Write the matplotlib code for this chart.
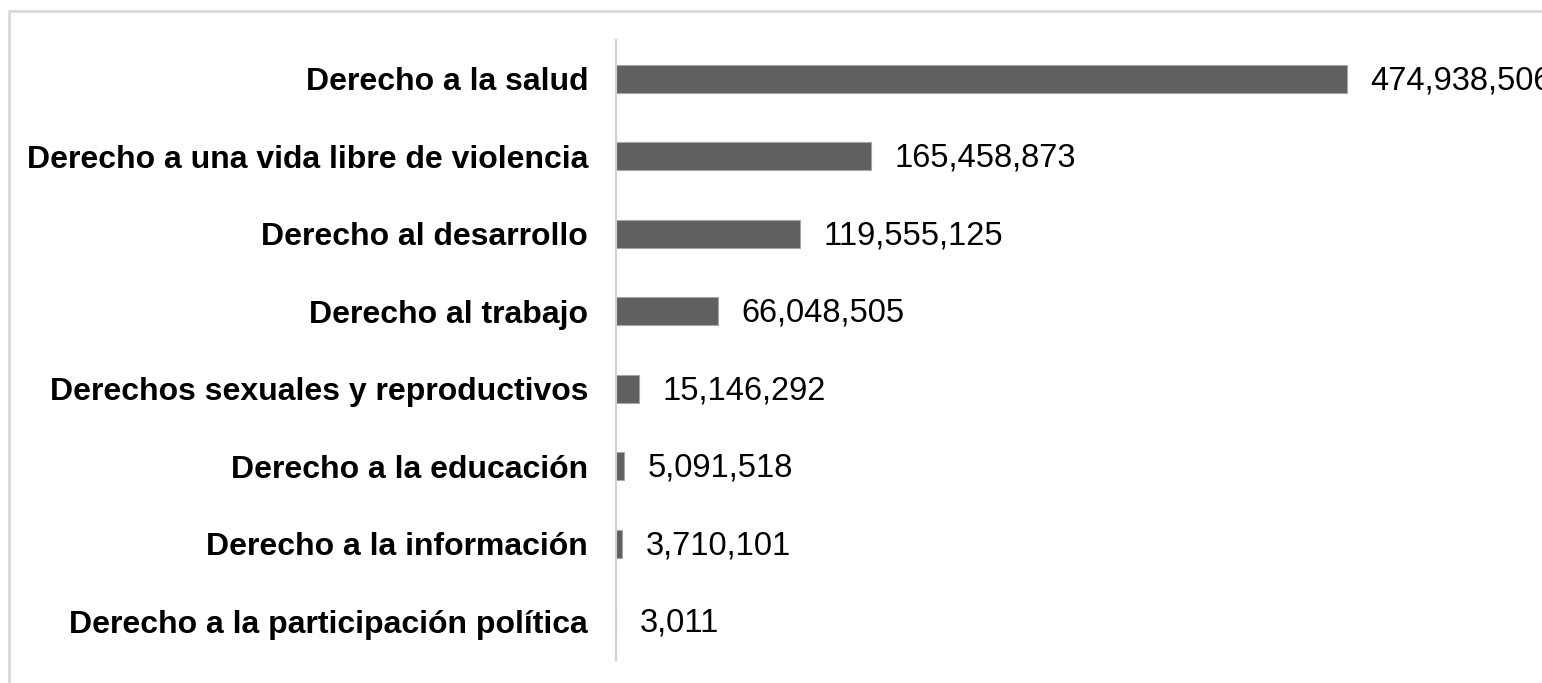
# horizontal bar chart: amounts per right (derecho)
import matplotlib.pyplot as plt
from matplotlib.patches import Rectangle

categories = [
    "Derecho a la salud",
    "Derecho a una vida libre de violencia",
    "Derecho al desarrollo",
    "Derecho al trabajo",
    "Derechos sexuales y reproductivos",
    "Derecho a la educación",
    "Derecho a la información",
    "Derecho a la participación política",
]
amounts = [474938506, 165458873, 119555125, 66048505, 15146292, 5091518, 3710101, 3011]

plt.rcParams["font.family"] = ["Liberation Sans", "DejaVu Sans"]

fig = plt.figure(figsize=(15.42, 6.83), dpi=100)
ax = fig.add_axes([616 / 1542, 23 / 683, 926 / 1542, 620 / 683])

pos = list(range(len(categories)))
ax.barh(pos, amounts, height=0.36, color="#606060", edgecolor="#a6a6a6", linewidth=0.8)

# value labels (the biggest one runs off the right edge, as in the original)
for p, v in zip(pos, amounts):
    ax.annotate(f"{v:,}", (v, p), xytext=(17, -1.5), textcoords="offset points",
                va="center", ha="left", fontsize=23.5, color="black",
                annotation_clip=False)

ax.set_yticks(pos)
ax.set_yticklabels(categories, fontsize=23, fontweight="bold")
ax.set_ylim(7.5, -0.5)
ax.set_xlim(0, 602e6)
ax.set_xticks([])
ax.tick_params(axis="y", length=0, pad=20)

for s in ["top", "right", "bottom"]:
    ax.spines[s].set_visible(False)
ax.spines["left"].set_color("#d0d0d0")
ax.spines["left"].set_linewidth(1.5)

# light gray frame around the chart (top and left edges visible)
fig.patches.append(Rectangle((9 / 1542, -0.1), 1.2, (683 - 11) / 683 + 0.1,
                             transform=fig.transFigure, fill=False,
                             edgecolor="#d9d9d9", linewidth=2))

fig.savefig("out.png", dpi=100)
